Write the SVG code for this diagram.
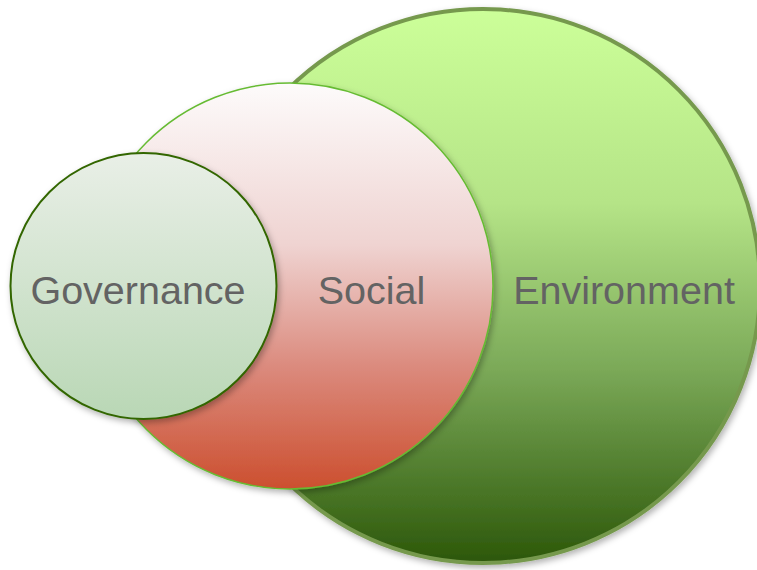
<svg xmlns="http://www.w3.org/2000/svg" width="757" height="570" viewBox="0 0 757 570">
<defs>
<linearGradient id="gEnv" x1="0" y1="0" x2="0" y2="1">
<stop offset="0" stop-color="#ccff99"/>
<stop offset="0.35" stop-color="#b5e487"/>
<stop offset="0.65" stop-color="#7ba958"/>
<stop offset="1" stop-color="#2c5709"/>
</linearGradient>
<linearGradient id="gSoc" x1="0" y1="0" x2="0" y2="1">
<stop offset="0" stop-color="#fdfbfb"/>
<stop offset="0.4" stop-color="#efd3d1"/>
<stop offset="0.7" stop-color="#db8a7d"/>
<stop offset="1" stop-color="#cc4f2f"/>
</linearGradient>
<linearGradient id="gGov" x1="0" y1="0" x2="0" y2="1">
<stop offset="0" stop-color="#e9efe7"/>
<stop offset="1" stop-color="#b9d7b5"/>
</linearGradient>
<filter id="sh" x="-10%" y="-10%" width="125%" height="125%">
<feDropShadow dx="2" dy="3" stdDeviation="3" flood-color="#000" flood-opacity="0.3"/>
</filter>
</defs>
<style>
.lbl{font-family:"Liberation Sans",Arial,sans-serif;font-size:39.5px;fill:#636363;text-anchor:middle}
</style>
<g id="environment">
<circle cx="483" cy="286" r="277" fill="url(#gEnv)" stroke="#76994e" stroke-width="4" filter="url(#sh)"/>
<text class="lbl" x="624" y="304">Environment</text>
</g>
<g id="social">
<circle cx="290" cy="286" r="203" fill="url(#gSoc)" stroke="#66bb33" stroke-width="1.5" filter="url(#sh)"/>
<text class="lbl" x="371.5" y="304">Social</text>
</g>
<g id="governance">
<circle cx="143.5" cy="286" r="133" fill="url(#gGov)" stroke="#336600" stroke-width="2" filter="url(#sh)"/>
<text class="lbl" x="138" y="304">Governance</text>
</g>
<g id="connectors"/>
</svg>
